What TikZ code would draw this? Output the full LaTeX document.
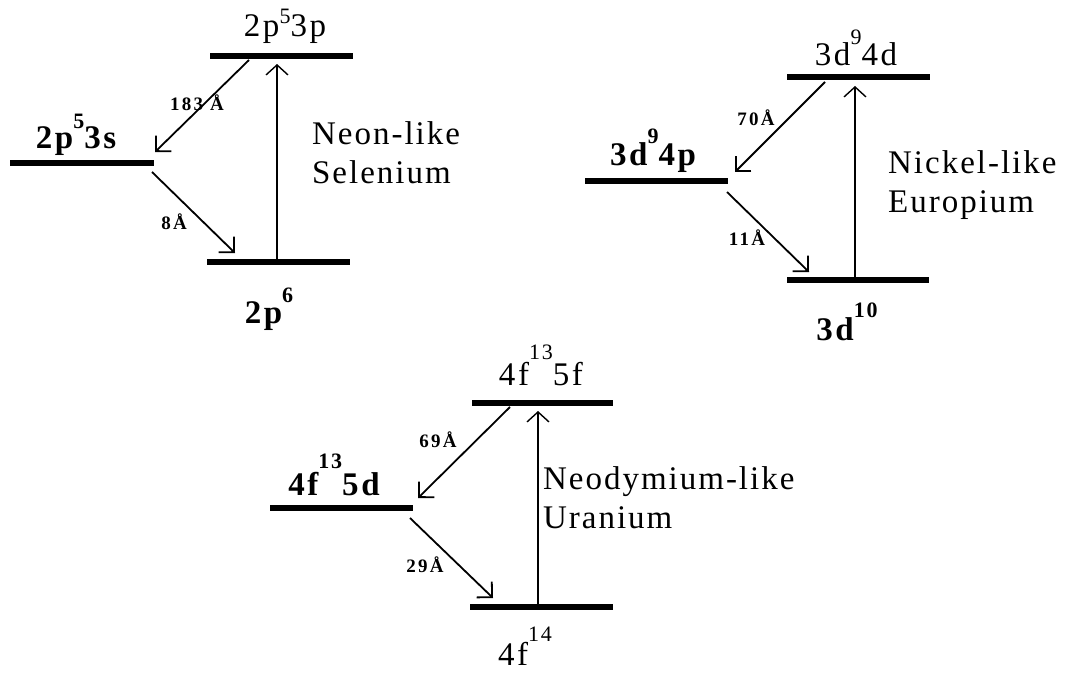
\documentclass[tikz,border=0pt]{standalone}
\usepackage{fontspec}
\setmainfont{Liberation Serif}
\newfontfamily\spaced[LetterSpace=6]{Liberation Serif}
\newfontfamily\lblfont[LetterSpace=8]{Liberation Serif}
\newfontfamily\wlfont[LetterSpace=12]{Liberation Serif}
\usetikzlibrary{arrows.meta}
\newcommand\sps[2][21pt]{\raisebox{#1}{\fontsize{22}{22}\selectfont #2}}
\tikzset{
  lev/.style={line width=6.5pt},
  trans/.style={line width=1.8pt,-{Straight Barb[length=11pt,width=22pt,line width=1.8pt]}},
  pump/.style={line width=1.4pt,-{Straight Barb[length=10pt,width=22pt,line width=1.4pt]}},
  lbl/.style={anchor=base,inner sep=0pt,font=\lblfont\fontsize{33}{33}\selectfont},
  blbl/.style={lbl,font=\lblfont\bfseries\fontsize{33}{33}\selectfont},
  wl/.style={inner sep=0pt,font=\wlfont\bfseries\fontsize{19}{19}\selectfont},
  ion/.style={anchor=base west,inner sep=0pt,align=left,font=\spaced\fontsize{33}{39}\selectfont}
}
\begin{document}
\begin{tikzpicture}[x=1pt,y=-1pt]
\useasboundingbox (0,0) rectangle (1065,672);
% ---------- Neon-like Selenium ----------
\coordinate (a1) at (210,56);  \coordinate (a2) at (353,56);
\coordinate (b1) at (10,163);  \coordinate (b2) at (154,163);
\coordinate (c1) at (207,262); \coordinate (c2) at (350,262);
\draw[lev] (a1) -- (a2);
\draw[lev] (b1) -- (b2);
\draw[lev] (c1) -- (c2);
\node[lbl]  (la) at (285,36)  {2p\sps[13pt]{5}3p};
\node[blbl] (lb) at (76,148)  {2p\sps[20pt]{5}3s};
\node[blbl] (lc) at (269,323) {2p\sps[21pt]{6}};
\coordinate (ap) at (277,262); \coordinate (aq) at (277,64);
\coordinate (at1) at (249,60);  \coordinate (ah1) at (155,152);
\coordinate (at2) at (152,172); \coordinate (ah2) at (235,253);
\draw[pump] (ap) -- (aq);
\draw[trans] (at1) -- (ah1);
\draw[trans] (at2) -- (ah2);
\node[wl] (w1) at (197,103) {183 Å};
\node[wl] (w2) at (174,222) {8Å};
\node[ion] (ne) at (312,183) {Neon-like\\Selenium};
% ---------- Nickel-like Europium ----------
\coordinate (d1) at (787,77);  \coordinate (d2) at (930,77);
\coordinate (e1) at (585,181); \coordinate (e2) at (728,181);
\coordinate (f1) at (787,280); \coordinate (f2) at (929,280);
\draw[lev] (d1) -- (d2);
\draw[lev] (e1) -- (e2);
\draw[lev] (f1) -- (f2);
\node[lbl]  (ld) at (856,65)  {3d\sps[21pt]{9}4d};
\node[blbl] (le) at (653,165) {3d\sps[22pt]{9}4p};
\node[blbl] (lf) at (847,340) {3d\sps[23pt]{10}};
\coordinate (bp) at (855,280); \coordinate (bq) at (855,86);
\coordinate (bt1) at (825,82);  \coordinate (bh1) at (735,172);
\coordinate (bt2) at (727,192); \coordinate (bh2) at (809,272);
\draw[pump] (bp) -- (bq);
\draw[trans] (bt1) -- (bh1);
\draw[trans] (bt2) -- (bh2);
\node[wl] (w3) at (756,118) {70Å};
\node[wl] (w4) at (747,238) {11Å};
\node[ion] (ni) at (888,212) {Nickel-like\\Europium};
% ---------- Neodymium-like Uranium ----------
\coordinate (g1) at (472,403); \coordinate (g2) at (613,403);
\coordinate (h1) at (270,508); \coordinate (h2) at (413,508);
\coordinate (i1) at (470,607); \coordinate (i2) at (613,607);
\draw[lev] (g1) -- (g2);
\draw[lev] (h1) -- (h2);
\draw[lev] (i1) -- (i2);
\node[lbl]  (lg) at (541,385) {4f\sps[26pt]{13}5f};
\node[blbl] (lh) at (334,495) {4f\sps[27pt]{13}5d};
\node[lbl]  (li) at (525,665) {4f\sps[24pt]{14}};
\coordinate (cp) at (538,607); \coordinate (cq) at (538,411);
\coordinate (ct1) at (510,407); \coordinate (ch1) at (418,498);
\coordinate (ct2) at (410,518); \coordinate (ch2) at (493,598);
\draw[pump] (cp) -- (cq);
\draw[trans] (ct1) -- (ch1);
\draw[trans] (ct2) -- (ch2);
\node[wl] (w5) at (438,440) {69Å};
\node[wl] (w6) at (425,565) {29Å};
\node[ion] (nd) at (543,528) {Neodymium-like\\Uranium};
\end{tikzpicture}
\end{document}
